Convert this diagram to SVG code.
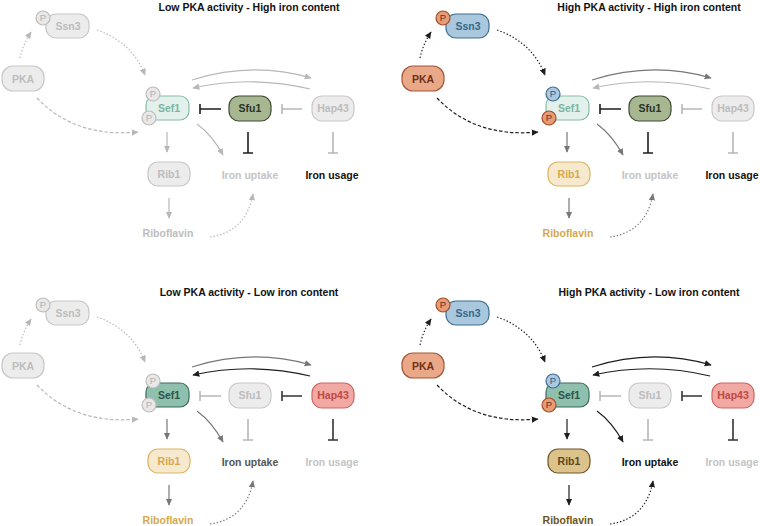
<svg xmlns="http://www.w3.org/2000/svg" width="760" height="526" viewBox="0 0 760 526">
<style>
text{font-family:"Liberation Sans",Arial,sans-serif;font-weight:bold;text-anchor:middle}
.title{font-size:10.5px;fill:#111}
.lbl{font-size:10.5px}
.pt{font-size:9.5px;font-weight:normal}
rect,circle{stroke-width:1.2}
.g rect,.g circle{fill:#ececec;stroke:#c8c8c8}.g text{fill:#bcbcbc}
.sefL rect{fill:#e3f0eb;stroke:#86bdaa}.sefL text{fill:#7ab5a1}
.sefD rect{fill:#8fc0ae;stroke:#3b6a5a}.sefD text{fill:#2c5446}
.sfu rect{fill:#a7b792;stroke:#3f4b30}.sfu text{fill:#2c3421}
.hap rect{fill:#f2a9a4;stroke:#cf6660}.hap text{fill:#bd4a43}
.pka rect{fill:#e9a888;stroke:#a4583a}.pka text{fill:#6f3218}
.ssn rect{fill:#a9c8dd;stroke:#3f6e92}.ssn text{fill:#38668a}
.ribL rect{fill:#f6e9cd;stroke:#dcb563}.ribL text{fill:#d5a84e}
.ribD rect{fill:#dcc28b;stroke:#6e5726}.ribD text{fill:#5e4719}
.pg circle{fill:#e8e8e8;stroke:#bdbdbd}.pg text{fill:#b3b3b3}
.po circle{fill:#e69c78;stroke:#a24d2a}.po text{fill:#6a2f15}
.pb circle{fill:#a9c9e0;stroke:#3e6d94}.pb text{fill:#2f5a7e}
.c path{fill:none;stroke-width:1.2}
.lg{stroke:#b7b7b7}.mg{stroke:#777}.dk{stroke:#1e1e1e}
.inh{stroke-width:1.6!important}
.dot{stroke-dasharray:1.4 2}.dash{stroke-dasharray:3.5 2}
</style>
<defs>
<marker id="alg" viewBox="0 0 10 10" refX="9" refY="5" markerWidth="7" markerHeight="7" markerUnits="userSpaceOnUse" orient="auto"><path d="M0,0.5 L10,5 L0,9.5 z" fill="#b7b7b7"/></marker>
<marker id="amg" viewBox="0 0 10 10" refX="9" refY="5" markerWidth="7" markerHeight="7" markerUnits="userSpaceOnUse" orient="auto"><path d="M0,0.5 L10,5 L0,9.5 z" fill="#777"/></marker>
<marker id="adk" viewBox="0 0 10 10" refX="9" refY="5" markerWidth="7" markerHeight="7" markerUnits="userSpaceOnUse" orient="auto"><path d="M0,0.5 L10,5 L0,9.5 z" fill="#1e1e1e"/></marker>
</defs>

<!-- Panel 1: Low PKA - High iron -->
<g id="panel1">
<text class="title" x="249" y="11">Low PKA activity - High iron content</text>
<g id="p1-connectors" class="c">
<path class="lg dot" d="M20,58 Q23,44 31,32" marker-end="url(#alg)"/>
<path class="lg dot" d="M97,30 Q132,42 145,75" marker-end="url(#alg)"/>
<path class="lg dash" d="M37,98 Q75,138 138,132" marker-end="url(#alg)"/>
<path class="lg" d="M192,80 Q252,61 311,78" marker-end="url(#alg)"/>
<path class="lg" d="M310,89 Q252,75 193,88" marker-end="url(#alg)"/>
<path class="dk inh" d="M221,109 H200 M200,104 V114"/>
<path class="lg inh" d="M302,109 H282 M282,104 V114"/>
<path class="dk inh" d="M248,132 V153 M243,153 H253"/>
<path class="lg inh" d="M333,132 V153 M328,153 H338"/>
<path class="lg" d="M167,132 V152" marker-end="url(#alg)"/>
<path class="lg" d="M197,124 Q212,135 223,155" marker-end="url(#alg)"/>
<path class="lg" d="M169,198 V218" marker-end="url(#alg)"/>
<path class="lg dot" d="M210,237 Q246,232 253,194" marker-end="url(#alg)"/>
</g>
<g id="p1-pka" class="g"><rect x="2" y="66" width="42" height="25" rx="11"/><text class="lbl" x="23" y="82.5">PKA</text></g>
<g id="p1-ssn3" class="g"><rect x="46" y="14" width="43" height="24" rx="10"/><text class="lbl" x="68" y="29.5">Ssn3</text></g>
<g id="p1-ssn3-p" class="pg"><circle cx="43" cy="18" r="7"/><text class="pt" x="43" y="21.4">P</text></g>
<g id="p1-sef1" class="sefL"><rect x="146" y="96" width="43" height="24" rx="9"/><text class="lbl" x="169" y="111.7">Sef1</text></g>
<g id="p1-sef1-p1" class="pg"><circle cx="153" cy="94" r="7"/><text class="pt" x="153" y="97.4">P</text></g>
<g id="p1-sef1-p2" class="pg"><circle cx="149" cy="118" r="7"/><text class="pt" x="149" y="121.4">P</text></g>
<g id="p1-sfu1" class="sfu"><rect x="229" y="96" width="42" height="25" rx="10"/><text class="lbl" x="250" y="112.2">Sfu1</text></g>
<g id="p1-hap43" class="g"><rect x="312" y="96" width="42" height="25" rx="10"/><text class="lbl" x="333" y="112.2">Hap43</text></g>
<g id="p1-rib1" class="g"><rect x="148" y="162" width="42" height="24" rx="10"/><text class="lbl" x="169" y="177.7">Rib1</text></g>
<g id="p1-riboflavin"><text class="lbl" x="168" y="237" fill="#bcbcbc">Riboflavin</text></g>
<g id="p1-uptake"><text class="lbl" x="250" y="179" fill="#c4c4c4">Iron uptake</text></g>
<g id="p1-usage"><text class="lbl" x="332" y="179" fill="#111">Iron usage</text></g>
</g>

<!-- Panel 2: High PKA - High iron -->
<g id="panel2" transform="translate(400,0)">
<text class="title" x="249" y="11">High PKA activity - High iron content</text>
<g id="p2-connectors" class="c">
<path class="dk dot" d="M20,58 Q23,44 31,32" marker-end="url(#adk)"/>
<path class="dk dot" d="M97,30 Q132,42 145,75" marker-end="url(#adk)"/>
<path class="dk dash" d="M37,98 Q75,138 138,132" marker-end="url(#adk)"/>
<path class="mg" d="M192,80 Q252,61 311,78" marker-end="url(#amg)"/>
<path class="lg" d="M310,89 Q252,75 193,88" marker-end="url(#alg)"/>
<path class="dk inh" d="M221,109 H200 M200,104 V114"/>
<path class="lg inh" d="M302,109 H282 M282,104 V114"/>
<path class="dk inh" d="M248,132 V153 M243,153 H253"/>
<path class="lg inh" d="M333,132 V153 M328,153 H338"/>
<path class="mg" d="M167,132 V152" marker-end="url(#amg)"/>
<path class="mg" d="M197,124 Q212,135 223,155" marker-end="url(#amg)"/>
<path class="mg" d="M169,198 V218" marker-end="url(#amg)"/>
<path class="mg dot" d="M210,237 Q246,232 253,194" marker-end="url(#amg)"/>
</g>
<g id="p2-pka" class="pka"><rect x="2" y="66" width="42" height="25" rx="11"/><text class="lbl" x="23" y="82.5">PKA</text></g>
<g id="p2-ssn3" class="ssn"><rect x="46" y="14" width="43" height="24" rx="10"/><text class="lbl" x="68" y="29.5">Ssn3</text></g>
<g id="p2-ssn3-p" class="po"><circle cx="43" cy="18" r="7"/><text class="pt" x="43" y="21.4">P</text></g>
<g id="p2-sef1" class="sefL"><rect x="146" y="96" width="43" height="24" rx="9"/><text class="lbl" x="169" y="111.7">Sef1</text></g>
<g id="p2-sef1-p1" class="pb"><circle cx="153" cy="94" r="7"/><text class="pt" x="153" y="97.4">P</text></g>
<g id="p2-sef1-p2" class="po"><circle cx="149" cy="118" r="7"/><text class="pt" x="149" y="121.4">P</text></g>
<g id="p2-sfu1" class="sfu"><rect x="229" y="96" width="42" height="25" rx="10"/><text class="lbl" x="250" y="112.2">Sfu1</text></g>
<g id="p2-hap43" class="g"><rect x="312" y="96" width="42" height="25" rx="10"/><text class="lbl" x="333" y="112.2">Hap43</text></g>
<g id="p2-rib1" class="ribL"><rect x="148" y="162" width="42" height="24" rx="10"/><text class="lbl" x="169" y="177.7">Rib1</text></g>
<g id="p2-riboflavin"><text class="lbl" x="168" y="237" fill="#d5a84e">Riboflavin</text></g>
<g id="p2-uptake"><text class="lbl" x="250" y="179" fill="#c4c4c4">Iron uptake</text></g>
<g id="p2-usage"><text class="lbl" x="332" y="179" fill="#111">Iron usage</text></g>
</g>

<!-- Panel 3: Low PKA - Low iron -->
<g id="panel3" transform="translate(0,287)">
<text class="title" x="249" y="9">Low PKA activity - Low iron content</text>
<g id="p3-connectors" class="c">
<path class="lg dot" d="M20,58 Q23,44 31,32" marker-end="url(#alg)"/>
<path class="lg dot" d="M97,30 Q132,42 145,75" marker-end="url(#alg)"/>
<path class="lg dash" d="M37,98 Q75,138 138,132" marker-end="url(#alg)"/>
<path class="mg" d="M192,80 Q252,61 311,78" marker-end="url(#amg)"/>
<path class="dk" d="M310,89 Q252,75 193,88" marker-end="url(#adk)"/>
<path class="lg inh" d="M221,109 H200 M200,104 V114"/>
<path class="dk inh" style="stroke:#333" d="M302,109 H282 M282,104 V114"/>
<path class="lg inh" d="M248,132 V153 M243,153 H253"/>
<path class="dk inh" style="stroke:#333" d="M333,132 V153 M328,153 H338"/>
<path class="mg" d="M167,132 V152" marker-end="url(#amg)"/>
<path class="mg" d="M197,124 Q212,135 223,155" marker-end="url(#amg)"/>
<path class="mg" d="M169,198 V218" marker-end="url(#amg)"/>
<path class="mg dot" d="M210,237 Q246,232 253,194" marker-end="url(#amg)"/>
</g>
<g id="p3-pka" class="g"><rect x="2" y="66" width="42" height="25" rx="11"/><text class="lbl" x="23" y="82.5">PKA</text></g>
<g id="p3-ssn3" class="g"><rect x="46" y="14" width="43" height="24" rx="10"/><text class="lbl" x="68" y="29.5">Ssn3</text></g>
<g id="p3-ssn3-p" class="pg"><circle cx="43" cy="18" r="7"/><text class="pt" x="43" y="21.4">P</text></g>
<g id="p3-sef1" class="sefD"><rect x="146" y="96" width="43" height="24" rx="9"/><text class="lbl" x="169" y="111.7">Sef1</text></g>
<g id="p3-sef1-p1" class="pg"><circle cx="153" cy="94" r="7"/><text class="pt" x="153" y="97.4">P</text></g>
<g id="p3-sef1-p2" class="pg"><circle cx="149" cy="118" r="7"/><text class="pt" x="149" y="121.4">P</text></g>
<g id="p3-sfu1" class="g"><rect x="229" y="96" width="42" height="25" rx="10"/><text class="lbl" x="250" y="112.2">Sfu1</text></g>
<g id="p3-hap43" class="hap"><rect x="312" y="96" width="42" height="25" rx="10"/><text class="lbl" x="333" y="112.2">Hap43</text></g>
<g id="p3-rib1" class="ribL"><rect x="148" y="162" width="42" height="24" rx="10"/><text class="lbl" x="169" y="177.7">Rib1</text></g>
<g id="p3-riboflavin"><text class="lbl" x="168" y="237" fill="#d5a84e">Riboflavin</text></g>
<g id="p3-uptake"><text class="lbl" x="250" y="179" fill="#555">Iron uptake</text></g>
<g id="p3-usage"><text class="lbl" x="332" y="179" fill="#c4c4c4">Iron usage</text></g>
</g>

<!-- Panel 4: High PKA - Low iron -->
<g id="panel4" transform="translate(400,287)">
<text class="title" x="249" y="9">High PKA activity - Low iron content</text>
<g id="p4-connectors" class="c">
<path class="dk dot" d="M20,58 Q23,44 31,32" marker-end="url(#adk)"/>
<path class="dk dot" d="M97,30 Q132,42 145,75" marker-end="url(#adk)"/>
<path class="dk dash" d="M37,98 Q75,138 138,132" marker-end="url(#adk)"/>
<path class="dk" d="M192,80 Q252,61 311,78" marker-end="url(#adk)"/>
<path class="dk" d="M310,89 Q252,75 193,88" marker-end="url(#adk)"/>
<path class="lg inh" d="M221,109 H200 M200,104 V114"/>
<path class="dk inh" style="stroke:#333" d="M302,109 H282 M282,104 V114"/>
<path class="lg inh" d="M248,132 V153 M243,153 H253"/>
<path class="dk inh" style="stroke:#333" d="M333,132 V153 M328,153 H338"/>
<path class="dk" d="M167,132 V152" marker-end="url(#adk)"/>
<path class="dk" d="M197,124 Q212,135 223,155" marker-end="url(#adk)"/>
<path class="dk" d="M169,198 V218" marker-end="url(#adk)"/>
<path class="dk dot" d="M210,237 Q246,232 253,194" marker-end="url(#adk)"/>
</g>
<g id="p4-pka" class="pka"><rect x="2" y="66" width="42" height="25" rx="11"/><text class="lbl" x="23" y="82.5">PKA</text></g>
<g id="p4-ssn3" class="ssn"><rect x="46" y="14" width="43" height="24" rx="10"/><text class="lbl" x="68" y="29.5">Ssn3</text></g>
<g id="p4-ssn3-p" class="po"><circle cx="43" cy="18" r="7"/><text class="pt" x="43" y="21.4">P</text></g>
<g id="p4-sef1" class="sefD"><rect x="146" y="96" width="43" height="24" rx="9"/><text class="lbl" x="169" y="111.7">Sef1</text></g>
<g id="p4-sef1-p1" class="pb"><circle cx="153" cy="94" r="7"/><text class="pt" x="153" y="97.4">P</text></g>
<g id="p4-sef1-p2" class="po"><circle cx="149" cy="118" r="7"/><text class="pt" x="149" y="121.4">P</text></g>
<g id="p4-sfu1" class="g"><rect x="229" y="96" width="42" height="25" rx="10"/><text class="lbl" x="250" y="112.2">Sfu1</text></g>
<g id="p4-hap43" class="hap"><rect x="312" y="96" width="42" height="25" rx="10"/><text class="lbl" x="333" y="112.2">Hap43</text></g>
<g id="p4-rib1" class="ribD"><rect x="148" y="162" width="42" height="24" rx="10"/><text class="lbl" x="169" y="177.7">Rib1</text></g>
<g id="p4-riboflavin"><text class="lbl" x="168" y="237" fill="#6e5420">Riboflavin</text></g>
<g id="p4-uptake"><text class="lbl" x="250" y="179" fill="#111">Iron uptake</text></g>
<g id="p4-usage"><text class="lbl" x="332" y="179" fill="#c4c4c4">Iron usage</text></g>
</g>
</svg>
